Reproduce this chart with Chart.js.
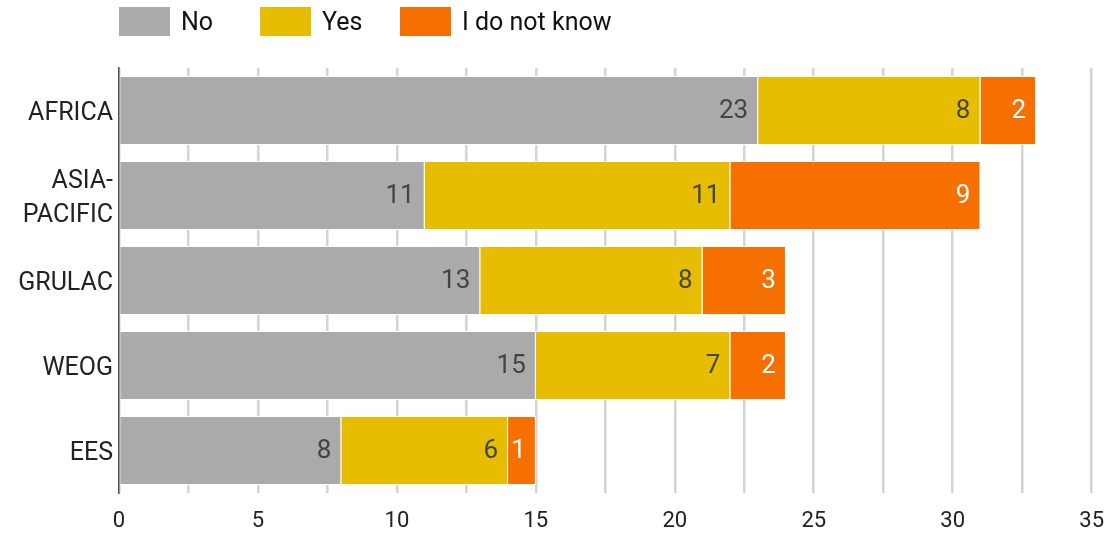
<!DOCTYPE html>
<html>
<head>
<meta charset="utf-8">
<script src="https://cdn.jsdelivr.net/npm/chart.js@4.4.1/dist/chart.umd.min.js"></script>
<style>
  html, body { margin: 0; padding: 0; background: #fff; }
  .wrap { position: relative; width: 1119px; height: 535px; }
  .legend {
    position: absolute; left: 119px; top: 7px;
    display: flex; font: 25px Roboto, 'Liberation Sans', sans-serif; color: #111;
  }
  .legend .item { display: flex; align-items: center; height: 29px; }
  .legend .item:nth-child(1) { width: 141px; }
  .legend .item:nth-child(2) { width: 140px; }
  .legend .swatch { width: 51px; height: 29px; margin-right: 11px; }
</style>
</head>
<body>
<div class="wrap">
  <canvas id="regionChart"></canvas>
  <div class="legend" id="legend"></div>
</div>
<script>
// Answers per region, stacked left to right
const regions = ['AFRICA', ['ASIA-', 'PACIFIC'], 'GRULAC', 'WEOG', 'EES'];
const answerNo = [23, 11, 13, 15, 8];
const answerYes = [8, 11, 8, 7, 6];
const answerUnknown = [2, 9, 3, 2, 1];
const seriesNames = ['No', 'Yes', 'I do not know'];
const seriesColors = ['#aaaaaa', '#e6bd00', '#f57000'];

const FONT = "Roboto, 'Liberation Sans', sans-serif";

// Value labels drawn inside the end of each bar segment
const barValueLabels = {
    id: 'barValueLabels',
    afterDatasetsDraw(chart) {
        const ctx = chart.ctx;
        ctx.save();
        ctx.font = '26px ' + FONT;
        ctx.textAlign = 'right';
        ctx.textBaseline = 'middle';
        chart.data.datasets.forEach((ds, i) => {
            const meta = chart.getDatasetMeta(i);
            ctx.fillStyle = i === 2 ? '#ffffff' : '#444444';
            meta.data.forEach((bar, j) => {
                const v = ds.data[j];
                if (!v) return;
                ctx.fillText(String(v), bar.x - 10, bar.y + 1);
            });
        });
        ctx.restore();
    }
};

const commonBar = {
    borderColor: '#ffffff',
    borderWidth: 1,
    borderSkipped: 'start',
    barPercentage: 0.81,
    categoryPercentage: 1.0
};

const chart = new Chart(document.getElementById('regionChart'), {
    type: 'bar',
    data: {
        labels: regions,
        datasets: [answerNo, answerYes, answerUnknown].map((values, i) => ({
            label: seriesNames[i],
            data: values,
            backgroundColor: seriesColors[i],
            ...commonBar
        }))
    },
    options: {
        indexAxis: 'y',
        responsive: true,
        maintainAspectRatio: false,
        animation: false,
        layout: { padding: { left: 0, right: 27, top: 68, bottom: 0 } },
        scales: {
            x: {
                stacked: true,
                min: 0,
                max: 35,
                afterFit: scale => { scale.height = 42; },
                border: { display: false },
                grid: { color: '#d4d4d4', lineWidth: 2.5, drawTicks: false },
                ticks: {
                    stepSize: 2.5,
                    autoSkip: false,
                    maxRotation: 0,
                    padding: 15,
                    color: '#222',
                    font: { family: FONT, size: 22 },
                    callback: v => (v % 5 === 0 ? v : '')
                }
            },
            y: {
                stacked: true,
                z: 1,
                afterFit: scale => { scale.width = 119; },
                grid: { display: false, drawTicks: false },
                border: { display: true, color: '#555555', width: 1.5 },
                ticks: {
                    padding: 6,
                    labelOffset: 3,
                    color: '#222',
                    font: { family: FONT, size: 25, lineHeight: 1.36 }
                }
            }
        },
        plugins: {
            legend: { display: false },
            tooltip: { enabled: false }
        }
    },
    plugins: [barValueLabels]
});

// Legend row above the plot
const legendEl = document.getElementById('legend');
chart.data.datasets.forEach(ds => {
    const item = document.createElement('div');
    item.className = 'item';
    const sw = document.createElement('span');
    sw.className = 'swatch';
    sw.style.background = ds.backgroundColor;
    const txt = document.createElement('span');
    txt.textContent = ds.label;
    item.append(sw, txt);
    legendEl.appendChild(item);
});
</script>
</body>
</html>
